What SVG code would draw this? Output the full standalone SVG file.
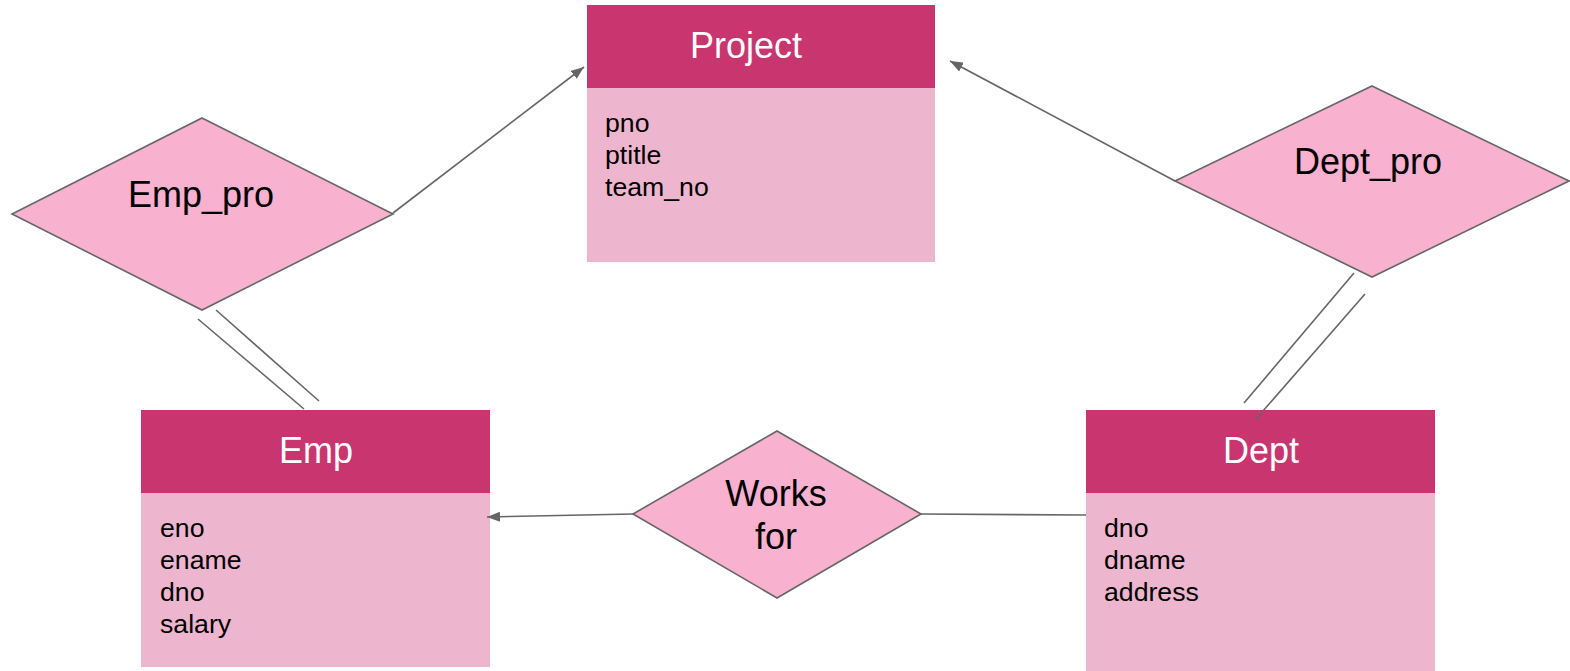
<svg xmlns="http://www.w3.org/2000/svg" width="1570" height="671" viewBox="0 0 1570 671">
  <style>
    .hdr { fill: #C8356F; }
    .body { fill: #EDB6CE; }
    .rel { fill: #F8B1CF; stroke: #666666; stroke-width: 1.6; stroke-linejoin: miter; }
    .title { font-family: "Liberation Sans", Arial, sans-serif; font-size: 36px; fill: #FFFFFF; text-anchor: middle; }
    .attr { font-family: "Liberation Sans", Arial, sans-serif; font-size: 26.67px; fill: #000000; }
    .rlabel { font-family: "Liberation Sans", Arial, sans-serif; font-size: 36px; fill: #000000; text-anchor: middle; }
    .edge { fill: none; stroke: #666666; stroke-width: 1.6; }
  </style>
  <defs>
    <marker id="arrow" markerUnits="userSpaceOnUse" markerWidth="13" markerHeight="10" refX="13" refY="5" orient="auto">
      <path d="M0,0 L13,5 L0,10 Z" fill="#666666"/>
    </marker>
  </defs>
  <rect width="1570" height="671" fill="#FFFFFF"/>

  <!-- Entity: Project -->
  <g id="project">
    <rect class="body" x="587" y="5" width="348" height="257"/>
    <rect class="hdr" x="587" y="5" width="348" height="83"/>
    <text class="title" x="746" y="58">Project</text>
    <text class="attr" x="605" y="132">pno</text>
    <text class="attr" x="605" y="164">ptitle</text>
    <text class="attr" x="605" y="196">team_no</text>
  </g>

  <!-- Entity: Emp -->
  <g id="emp">
    <rect class="body" x="141" y="410" width="349" height="257"/>
    <rect class="hdr" x="141" y="410" width="349" height="83"/>
    <text class="title" x="316" y="463">Emp</text>
    <text class="attr" x="160" y="537">eno</text>
    <text class="attr" x="160" y="569">ename</text>
    <text class="attr" x="160" y="601">dno</text>
    <text class="attr" x="160" y="633">salary</text>
  </g>

  <!-- Entity: Dept -->
  <g id="dept">
    <rect class="body" x="1086" y="410" width="349" height="261"/>
    <rect class="hdr" x="1086" y="410" width="349" height="83"/>
    <text class="title" x="1261" y="463">Dept</text>
    <text class="attr" x="1104" y="537">dno</text>
    <text class="attr" x="1104" y="569">dname</text>
    <text class="attr" x="1104" y="601">address</text>
  </g>

  <!-- Relationship: Emp_pro -->
  <g id="emp_pro">
    <polygon class="rel" points="202,118 393,214 202,310 12,214"/>
    <text class="rlabel" x="201" y="207">Emp_pro</text>
  </g>

  <!-- Relationship: Dept_pro -->
  <g id="dept_pro">
    <polygon class="rel" points="1372,86 1569,181 1372,277 1175,181"/>
    <text class="rlabel" x="1368" y="174">Dept_pro</text>
  </g>

  <!-- Relationship: Works for -->
  <g id="works_for">
    <polygon class="rel" points="777,431 921,514 777,598 633,514"/>
    <text class="rlabel" x="776" y="506">Works</text>
    <text class="rlabel" x="776" y="549">for</text>
  </g>

  <!-- Connectors -->
  <g id="connectors">
    <line class="edge" x1="393" y1="213" x2="584" y2="67" marker-end="url(#arrow)"/>
    <line class="edge" x1="1175" y1="181" x2="950" y2="61" marker-end="url(#arrow)"/>
    <line class="edge" x1="633" y1="514" x2="487" y2="517" marker-end="url(#arrow)"/>
    <line class="edge" x1="921" y1="514" x2="1086" y2="515"/>
    <!-- double lines: total participation -->
    <line class="edge" x1="198" y1="319" x2="304" y2="409"/>
    <line class="edge" x1="216" y1="310" x2="319" y2="401"/>
    <line class="edge" x1="1354" y1="273" x2="1244" y2="403"/>
    <line class="edge" x1="1365" y1="294" x2="1256" y2="419"/>
  </g>
</svg>
